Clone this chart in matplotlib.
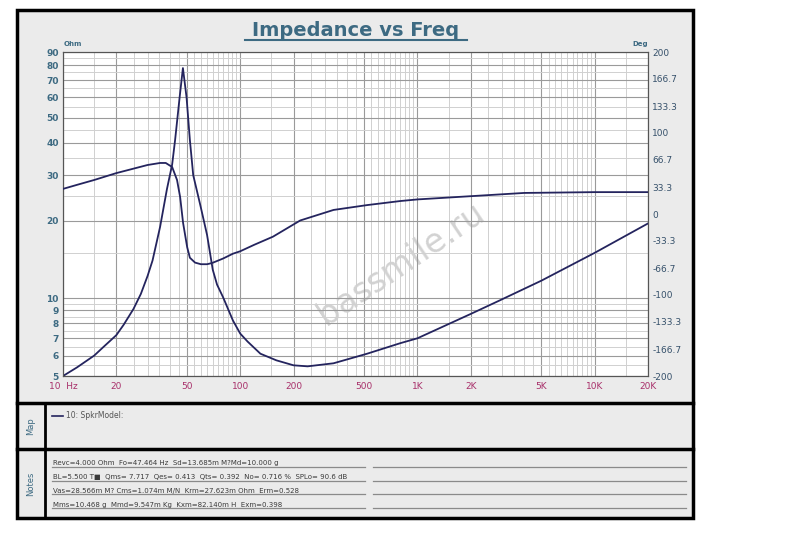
import matplotlib
matplotlib.use("Agg")
import matplotlib.pyplot as plt
from matplotlib.patches import Rectangle
from matplotlib.ticker import FixedLocator, NullFormatter

# impedance curve (Ohm)
freq_imp = [10, 12, 15, 17, 20, 22, 25, 27.5, 30, 32, 35.3, 38.6, 41.3, 42.9, 45.5, 47.5, 49.8,
            52, 54.3, 59.5, 65, 70, 74, 80, 91, 100, 110, 130, 160, 200, 240, 336, 520, 800,
            1000, 2000, 2900, 5000, 10000, 20000]
imp = [5.0, 5.4, 6.0, 6.5, 7.2, 7.9, 9.1, 10.4, 12.2, 14, 18.9, 26.5, 33, 41, 60, 78, 60,
       41, 30, 23, 17.6, 12.9, 11.3, 10.1, 8.2, 7.3, 6.8, 6.1, 5.75, 5.5, 5.45, 5.6, 6.1, 6.7,
       7.0, 8.7, 9.8, 11.7, 15.0, 19.5]

# phase curve (Deg)
freq_ph = [10, 12, 15, 20, 25, 30, 35.3, 38, 41.3, 44, 45.8, 47.6, 50.2, 52, 55.6, 60, 65,
           69.4, 80, 91, 100, 120, 153, 218, 336, 520, 800, 1000, 2000, 4000, 10000, 20000]
phase = [31, 36, 42, 50.5, 56, 60.5, 63, 63, 58, 42, 21, -11, -41, -54, -60, -62, -62,
         -60.5, -55, -49, -46, -38, -28, -8, 5, 11, 16, 18, 22, 26, 27, 27]

x_ticks = [10, 20, 50, 100, 200, 500, 1000, 2000, 5000, 10000, 20000]
x_labels = ["10  Hz", "20", "50", "100", "200", "500", "1K", "2K", "5K", "10K", "20K"]
y_ticks = [5, 6, 7, 8, 9, 10, 20, 30, 40, 50, 60, 70, 80, 90]
ph_ticks = [200, 166.7, 133.3, 100, 66.7, 33.3, 0, -33.3, -66.7, -100, -133.3, -166.7, -200]

notes = [
    "Revc=4.000 Ohm  Fo=47.464 Hz  Sd=13.685m M?Md=10.000 g",
    "BL=5.500 T\u25a0  Qms= 7.717  Qes= 0.413  Qts= 0.392  No= 0.716 %  SPLo= 90.6 dB",
    "Vas=28.566m M? Cms=1.074m M/N  Krm=27.623m Ohm  Erm=0.528",
    "Mms=10.468 g  Mmd=9.547m Kg  Kxm=82.140m H  Exm=0.398",
]

blue = "#3d6a82"
curve = "#24245e"

fig = plt.figure(figsize=(8, 5.33), dpi=100)

# frame drawn in pixel coords
bg = fig.add_axes([0, 0, 1, 1])
bg.set_xlim(0, 800)
bg.set_ylim(533, 0)
bg.axis("off")
bg.add_patch(Rectangle((17, 10), 676, 508, facecolor="#ebebeb", edgecolor="black", lw=2.5))
bg.plot([17, 693], [403, 403], color="black", lw=2.5)
bg.plot([17, 693], [449, 449], color="black", lw=2.5)
bg.plot([45, 45], [403, 518], color="black", lw=2)
bg.text(356, 36, "Impedance vs Freq", ha="center", va="baseline", fontsize=14,
        fontweight="bold", color=blue)
bg.plot([245, 467], [40, 40], color=blue, lw=1.5)
bg.text(31, 426, "Map", rotation=90, ha="center", va="center", fontsize=6, color=blue)
bg.text(31, 484, "Notes", rotation=90, ha="center", va="center", fontsize=6, color=blue)
bg.plot([52, 63], [416, 416], color=curve, lw=1.2)
bg.text(66, 416, "10: SpkrModel:", ha="left", va="center", fontsize=5.5, color="#555555")
for i, line in enumerate(notes):
    yl = 467 + i * 13.7
    bg.text(53, yl - 1.5, line, ha="left", va="baseline", fontsize=5.0, color="#3a3a3a")
    bg.plot([52, 365], [yl, yl], color="#8a8a8a", lw=0.9)
    bg.plot([373, 686], [yl, yl], color="#8a8a8a", lw=0.9)
bg.text(73, 46, "Ohm", ha="center", va="baseline", fontsize=5, color=blue, fontweight="bold")
bg.text(640, 46, "Deg", ha="center", va="baseline", fontsize=5, color=blue, fontweight="bold")

ax = fig.add_axes([63 / 800, 1 - 376 / 533, 585 / 800, 324 / 533])
ax.set_facecolor("white")
ax.set_xscale("log")
ax.set_yscale("log")
ax.set_xlim(10, 20000)
ax.set_ylim(5, 90)

# grid: every half unit in each decade
minor_x = []
for dec in [10, 100, 1000, 10000]:
    for k in range(3, 20):
        v = k * 0.5 * dec
        if v <= 20000 and v not in x_ticks:
            minor_x.append(v)
minor_y = [5.5, 6.5, 7.5, 8.5, 9.5] + [v for v in range(15, 90, 5) if v % 10 != 0]
ax.xaxis.set_major_locator(FixedLocator(x_ticks))
ax.xaxis.set_minor_locator(FixedLocator(minor_x))
ax.yaxis.set_major_locator(FixedLocator(y_ticks))
ax.yaxis.set_minor_locator(FixedLocator(minor_y))
ax.xaxis.set_minor_formatter(NullFormatter())
ax.yaxis.set_minor_formatter(NullFormatter())
ax.set_xticklabels(x_labels)
ax.set_yticklabels([str(v) for v in y_ticks])
ax.grid(True, which="major", color="#9a9a9a", lw=0.8)
ax.grid(True, which="minor", color="#d0d0d0", lw=0.7)
ax.tick_params(which="both", length=0)
ax.tick_params(axis="x", pad=4, labelsize=6.5, labelcolor="#a8306a")
ax.tick_params(axis="y", pad=3, labelsize=6.5, labelcolor=blue)
for lab in ax.get_yticklabels():
    lab.set_fontweight("bold")
for s in ax.spines.values():
    s.set_color("#555555")

ax.text(0.578, 0.345, "bassmile.ru", transform=ax.transAxes, rotation=34, ha="center",
        va="center", fontsize=24, color="#d2d2d2", zorder=1)
ax.plot(freq_imp, imp, color=curve, lw=1.3, zorder=3)

ax2 = ax.twinx()
ax2.set_ylim(-200, 200)
ax2.set_yticks(ph_ticks)
ax2.set_yticklabels([("%g" % v) for v in ph_ticks])
ax2.tick_params(length=0, pad=3, labelsize=6.5, labelcolor="#35506a")
for s in ax2.spines.values():
    s.set_color("#555555")
ax2.plot(freq_ph, phase, color=curve, lw=1.3, zorder=3)

fig.savefig("out.png", dpi=100)
